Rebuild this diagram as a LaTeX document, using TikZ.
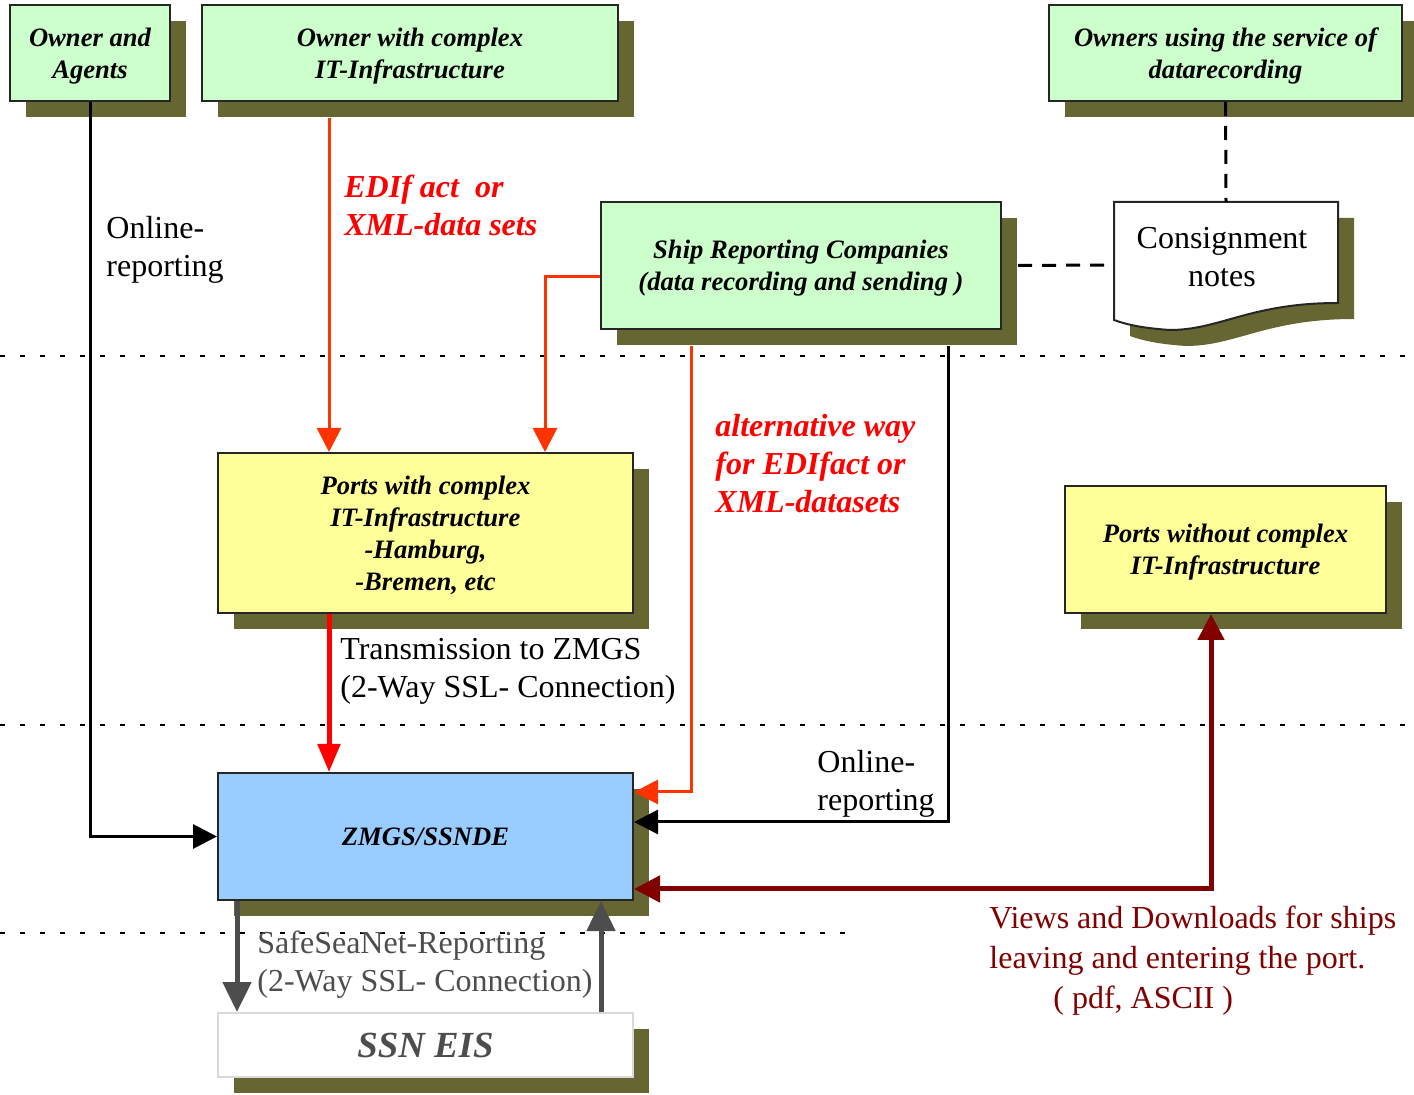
\documentclass[tikz,border=0pt]{standalone}
\usepackage{fontspec}
\setmainfont{Liberation Serif}
\usetikzlibrary{arrows.meta, shadows, positioning}
\definecolor{boxgreen}{HTML}{CCFFCC}
\definecolor{boxyellow}{HTML}{FFFF99}
\definecolor{boxblue}{HTML}{99CCFF}
\definecolor{shadowolive}{HTML}{666633}
\definecolor{edired}{HTML}{FF3300}
\definecolor{labelred}{HTML}{FF0000}
\definecolor{portred}{HTML}{800000}
\definecolor{ssngrey}{HTML}{4D4D4D}
\tikzset{
  unitbox/.style={draw=black!85, line width=1pt, align=center, inner sep=2pt, text depth=0pt,
    font=\fontsize{13.3}{16}\selectfont\bfseries\itshape,
    drop shadow={shadow xshift=8pt, shadow yshift=-8pt, fill=shadowolive, opacity=1}},
  ownerbox/.style={unitbox, fill=boxgreen, minimum height=48pt},
  portbox/.style={unitbox, fill=boxyellow},
  centralbox/.style={unitbox, fill=boxblue, minimum width=207.5pt, minimum height=63.5pt},
  eisbox/.style={unitbox, draw=black!15, fill=white, text=ssngrey,
    font=\fontsize{18.4}{20}\selectfont\bfseries\itshape, minimum width=207.5pt, minimum height=32pt},
  flowtext/.style={font=\fontsize{16}{19}\selectfont, align=left, inner sep=0pt, anchor=north west},
  redtext/.style={flowtext, text=labelred, font=\fontsize{16}{19}\selectfont\bfseries\itshape},
  layer line/.style={line width=0.6pt, dash pattern=on 2.5pt off 7.5pt},
  blackflow/.style={line width=1.5pt, -{Triangle[length=12pt,width=12pt]}},
  ediflow/.style={line width=1.5pt, edired, -{Triangle[length=12pt,width=12pt]}},
  zmgsflow/.style={line width=2.5pt, labelred, -{Triangle[length=14pt,width=11pt]}},
  viewflow/.style={line width=2.5pt, portred, {Triangle[length=13pt,width=13pt]}-{Triangle[length=13pt,width=13pt]}},
  ssnflow/.style={line width=2.5pt, ssngrey, -{Triangle[length=15pt,width=14pt]}},
  noteline/.style={line width=1.5pt, dash pattern=on 7pt off 5pt},
}

\begin{document}
\begin{tikzpicture}[x=0.5pt, y=-0.5pt]
\useasboundingbox (0,0) rectangle (1414,1095);

% layer separators
\draw [layer line] (0,356) -- (1414,356);
\draw [layer line] (0,725) -- (1414,725);
\draw [layer line] (0,933) -- (860,933);

% owners
\node [ownerbox, minimum width=80pt] (agents) at (90,53) {Owner and\\Agents};
\node [ownerbox, minimum width=208pt] (ownerIT) at (410,53) {Owner with complex\\IT-Infrastructure};
\node [ownerbox, minimum width=176.5pt] (ownerRec) at (1225.5,53) {Owners using the service of\\datarecording};
\node [ownerbox, minimum width=200pt, minimum height=63.5pt] (shipRep) at (801,265.5) {Ship Reporting Companies\\(data recording and sending )};

% consignment notes (document shape)
\fill [shadowolive] (1130,218) -- (1354,218) -- (1354,319) .. controls (1266,319) and (1236,346) .. (1186,346) .. controls (1156,344) and (1141,340) .. (1130,336) -- cycle;
\draw [fill=white, line width=1pt, draw=black!85] (1114,202) -- (1338,202) -- (1338,303) .. controls (1250,303) and (1220,330) .. (1170,330) .. controls (1140,328) and (1125,324) .. (1114,320) -- cycle;
\node [font=\fontsize{16}{19}\selectfont, align=center] (notes) at (1222,257) {Consignment\\notes};
\coordinate (notesTop) at (1226,202);
\coordinate (notesLeft) at (1114,265);

% ports
\node [portbox, minimum width=207.5pt, minimum height=80pt] (portsIT) at (425.5,533) {Ports with complex\\IT-Infrastructure\\-Hamburg,\\-Bremen, etc};
\node [portbox, minimum width=160.5pt, minimum height=63.5pt] (portsNoIT) at (1225.5,549.5) {Ports without complex\\IT-Infrastructure};

% central system
\node [centralbox] (zmgs) at (425.5,836.5) {ZMGS/SSNDE};
\node [eisbox] (eis) at (425.5,1045) {SSN EIS};

% connector columns
\coordinate (ediX) at (329,0);
\coordinate (sideX) at (545,277);
\coordinate (altX) at (691,792);
\coordinate (onlineX) at (948,822);
\coordinate (viewX) at (1211,889);
\coordinate (eisDown) at (237,0);
\coordinate (eisUp) at (601,0);

% connectors
\draw [blackflow] (agents.south) |- (zmgs.west);
\draw [ediflow] (ownerIT.south -| ediX) ++(0,16) -- (portsIT.north -| ediX);
\draw [ediflow] (shipRep.west |- sideX) -| (portsIT.north -| sideX);
\draw [ediflow] (shipRep.south -| altX) ++(0,16) |- (zmgs.east |- altX);
\draw [blackflow] (shipRep.south -| onlineX) ++(0,16) |- (zmgs.east |- onlineX);
\draw [noteline] (ownerRec.south) -- (notesTop);
\draw [noteline] ([xshift=8pt]shipRep.east) -- (notesLeft);
\draw [zmgsflow] (portsIT.south -| ediX) -- (zmgs.north -| ediX);
\draw [viewflow] (zmgs.east |- viewX) -| (portsNoIT.south -| viewX);
\draw [ssnflow] (zmgs.south -| eisDown) -- (eis.north -| eisDown);
\draw [ssnflow] (eis.north -| eisUp) -- (zmgs.south -| eisUp);

% labels
\node [flowtext] (onlineA) at (106,216) {Online-\\reporting};
\node [redtext] (ediLabel) at (344,175) {EDIf act\ \ or\\XML-data sets};
\node [redtext] (altLabel) at (715,414) {alternative way\\for EDIfact or\\XML-datasets};
\node [flowtext] (transLabel) at (340,638) {Transmission to ZMGS\\(2-Way SSL- Connection)};
\node [flowtext] (onlineB) at (817,750) {Online-\\reporting};
\node [flowtext, text=ssngrey] (ssnLabel) at (257,931) {SafeSeaNet-Reporting\\(2-Way SSL- Connection)};
\node [flowtext, text=portred, font=\fontsize{16}{20}\selectfont] (viewLabel) at (989,906) {Views and Downloads for ships\\leaving and entering the port.\\\hspace*{32pt}( pdf, ASCII )};
\end{tikzpicture}
\end{document}
